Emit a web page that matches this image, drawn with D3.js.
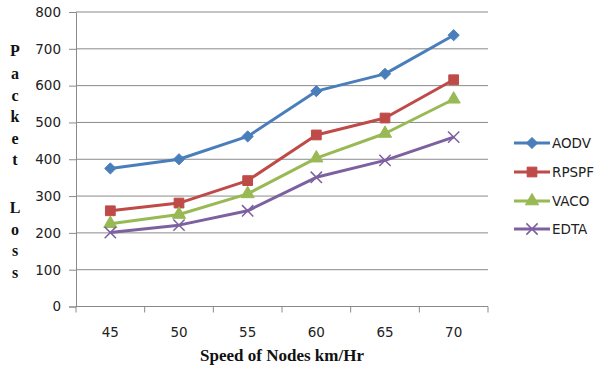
<!DOCTYPE html>
<html>
<head>
<meta charset="utf-8">
<script src="https://cdn.jsdelivr.net/npm/d3@7"></script>
<style>
  html, body { margin: 0; padding: 0; background: #fff; }
  svg { display: block; }
</style>
</head>
<body>
<svg id="chart" width="596" height="367"></svg>
<script>
// Packet loss versus node speed for four routing protocols
const speeds = ["45", "50", "55", "60", "65", "70"];
const aodv  = [375, 400, 462, 585, 632, 737];
const rpspf = [260, 281, 342, 466, 512, 616];
const vaco  = [225, 250, 306, 403, 470, 563];
const edta  = [201, 221, 260, 351, 397, 460];
const seriesNames = ["AODV", "RPSPF", "VACO", "EDTA"];
const yTicks = [0, 100, 200, 300, 400, 500, 600, 700, 800];

const colors = { AODV: "#4a7ebb", RPSPF: "#be4b48", VACO: "#98b954", EDTA: "#7d60a0" };
const shapes = { AODV: d3.symbolDiamond2, RPSPF: d3.symbolSquare, VACO: d3.symbolTriangle, EDTA: d3.symbolX };
const sizes  = { AODV: 80, RPSPF: 95, VACO: 75, EDTA: 85 };

const series = [
  { name: "AODV", values: aodv },
  { name: "RPSPF", values: rpspf },
  { name: "VACO", values: vaco },
  { name: "EDTA", values: edta }
];

const svg = d3.select("#chart");
const plot = { left: 76, right: 488, top: 12, bottom: 306.5 };

const x = d3.scaleBand().domain(speeds).range([plot.left, plot.right]);
const y = d3.scaleLinear().domain([0, 800]).range([plot.bottom, plot.top]);

const gridColor = "#8a8a8a";
const tickFont = "'DejaVu Sans', Verdana, sans-serif";
const tickSize = 13.5;

// horizontal gridlines
svg.append("g")
  .selectAll("line")
  .data(yTicks.filter(t => t > 0))
  .join("line")
  .attr("x1", plot.left).attr("x2", plot.right)
  .attr("y1", d => y(d)).attr("y2", d => y(d))
  .attr("stroke", gridColor).attr("stroke-width", 1);

// y axis
const yAxis = svg.append("g")
  .attr("transform", `translate(${plot.left},0)`)
  .call(d3.axisLeft(y).tickValues(yTicks).tickSize(7).tickPadding(8));
yAxis.select(".domain").attr("stroke", gridColor);
yAxis.selectAll(".tick line").attr("stroke", gridColor);
yAxis.selectAll(".tick text")
  .attr("font-family", tickFont).attr("font-size", tickSize).attr("fill", "#222");

// x axis: ticks at category boundaries, labels at category centers
const xAxisG = svg.append("g").attr("transform", `translate(0,${plot.bottom})`);
xAxisG.append("line")
  .attr("x1", plot.left).attr("x2", plot.right)
  .attr("stroke", gridColor);
const bounds = speeds.map(s => x(s)).concat([x(speeds[speeds.length - 1]) + x.bandwidth()]);
xAxisG.selectAll("line.tk")
  .data(bounds)
  .join("line").attr("class", "tk")
  .attr("x1", d => d).attr("x2", d => d)
  .attr("y1", 0).attr("y2", 6)
  .attr("stroke", gridColor);
xAxisG.selectAll("text")
  .data(speeds)
  .join("text")
  .attr("x", d => x(d) + x.bandwidth() / 2)
  .attr("y", 30.5)
  .attr("text-anchor", "middle")
  .attr("font-family", tickFont).attr("font-size", tickSize).attr("fill", "#222")
  .text(d => d);

// lines and markers
const line = d3.line()
  .x((d, i) => x(speeds[i]) + x.bandwidth() / 2)
  .y(d => y(d));

series.forEach(s => {
  svg.append("path")
    .datum(s.values)
    .attr("d", line)
    .attr("fill", "none")
    .attr("stroke", colors[s.name])
    .attr("stroke-width", 3)
    .attr("stroke-linejoin", "round");
});

series.forEach(s => {
  const isX = s.name === "EDTA";
  svg.append("g")
    .selectAll("path")
    .data(s.values)
    .join("path")
    .attr("transform", (d, i) => `translate(${x(speeds[i]) + x.bandwidth() / 2},${y(d)})`)
    .attr("d", d3.symbol(shapes[s.name], sizes[s.name]))
    .attr("fill", isX ? "none" : colors[s.name])
    .attr("stroke", colors[s.name])
    .attr("stroke-width", isX ? 1.5 : 1);
});

// legend
const legendY = [143, 172, 201, 229];
const legend = svg.append("g");
series.forEach((s, i) => {
  const g = legend.append("g").attr("transform", `translate(514,${legendY[i]})`);
  g.append("line").attr("x1", 0).attr("x2", 36)
    .attr("stroke", colors[s.name]).attr("stroke-width", 3);
  g.append("path")
    .attr("transform", "translate(18,0)")
    .attr("d", d3.symbol(shapes[s.name], sizes[s.name]))
    .attr("fill", s.name === "EDTA" ? "none" : colors[s.name])
    .attr("stroke", colors[s.name])
    .attr("stroke-width", s.name === "EDTA" ? 1.5 : 1);
  g.append("text")
    .attr("x", 38).attr("y", 0).attr("dy", "0.36em")
    .attr("font-family", tickFont).attr("font-size", tickSize).attr("fill", "#222")
    .text(s.name);
});

// axis titles
const titleFont = "'Liberation Serif', 'Times New Roman', serif";
svg.append("text")
  .attr("x", 282).attr("y", 361)
  .attr("text-anchor", "middle")
  .attr("font-family", titleFont).attr("font-weight", "bold").attr("font-size", 17)
  .attr("fill", "#111")
  .text("Speed of Nodes km/Hr");

// vertical title, one letter per line
const letters1 = "Packet".split("");
const letters2 = "Loss".split("");
const yt = svg.append("text")
  .attr("font-family", titleFont).attr("font-weight", "bold").attr("font-size", 16)
  .attr("fill", "#111").attr("text-anchor", "middle");
letters1.forEach((c, i) => {
  yt.append("tspan").attr("x", 15).attr("y", (i === 0 ? 56 : 58 + i * 21.4)).text(c);
});
letters2.forEach((c, i) => {
  yt.append("tspan").attr("x", 15).attr("y", 213 + i * 21.7).text(c);
});
</script>
</body>
</html>
